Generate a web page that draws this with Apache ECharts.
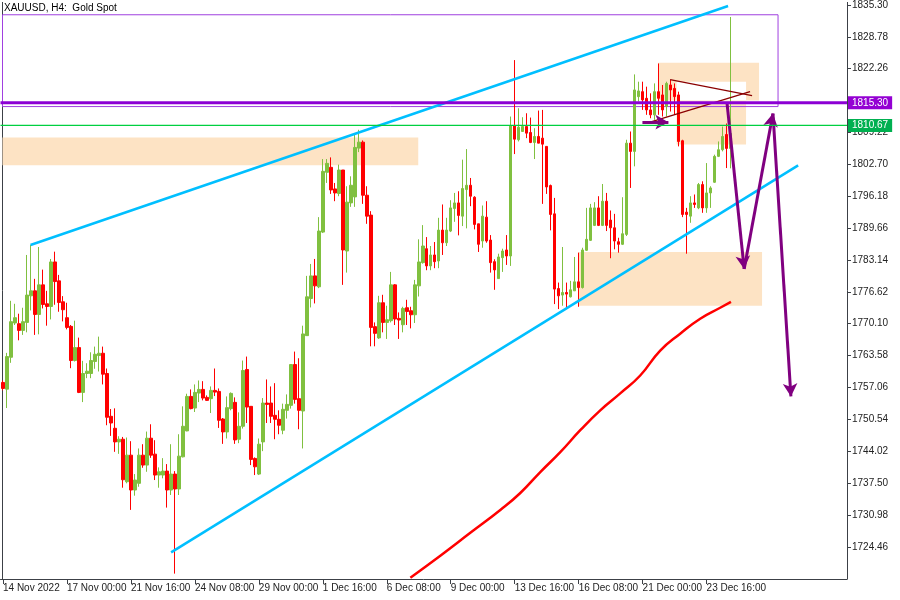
<!DOCTYPE html>
<html>
<head>
<meta charset="utf-8">
<script src="https://cdn.jsdelivr.net/npm/echarts@6/dist/echarts.min.js"></script>
<style>html,body{margin:0;padding:0;background:#fff}#c{width:900px;height:600px}</style>
</head>
<body>
<div id="c"></div>
<script>
// ---- data (bar index 0 = 14 Nov 2022 08:00, H4 bars) ----
const openP = [1758.08,1756.71,1763.23,1770.24,1770.10,1768.73,1770.36,1775.80,1776.82,1771.99,1778.04,1774.17,1773.62,1782.73,1778.86,1774.58,1771.32,1769.55,1762.56,1765.21,1756.04,1759.91,1759.91,1762.36,1763.58,1764.05,1759.91,1751.15,1748.70,1745.91,1746.46,1737.76,1743.20,1736.07,1737.44,1743.20,1741.17,1746.67,1743.41,1739.13,1739.13,1739.94,1736.07,1739.33,1736.28,1742.86,1748.16,1755.22,1752.84,1755.90,1756.65,1755.02,1754.76,1756.45,1756.24,1750.60,1747.95,1752.72,1754.00,1746.46,1749.11,1760.73,1753.19,1742.53,1739.33,1745.91,1753.86,1753.86,1751.35,1750.54,1748.30,1752.37,1753.39,1761.74,1754.76,1752.23,1767.65,1775.25,1779.88,1777.64,1788.84,1801.07,1802.09,1797.67,1796.73,1801.54,1784.97,1794.81,1796.04,1806.02,1807.24,1796.38,1792.31,1769.49,1767.19,1774.38,1770.36,1770.71,1778.04,1771.18,1769.89,1773.36,1772.75,1771.93,1777.84,1782.59,1785.44,1781.92,1784.16,1782.93,1789.25,1786.66,1789.05,1793.67,1794.81,1792.10,1797.54,1798.42,1795.97,1790.53,1787.01,1791.90,1787.21,1782.79,1779.33,1783.61,1785.18,1783.95,1810.58,1807.73,1809.42,1810.44,1809.22,1807.18,1808.40,1808.06,1806.37,1798.36,1792.57,1777.29,1775.95,1776.48,1775.60,1776.82,1778.66,1777.49,1785.12,1787.15,1790.21,1793.79,1790.21,1795.16,1791.29,1789.72,1786.87,1786.34,1788.37,1807.04,1805.35,1816.55,1817.57,1816.21,1813.84,1812.83,1817.57,1816.90,1814.52,1818.94,1818.24,1816.90,1807.53,1792.92,1792.10,1794.81,1793.79,1798.56,1793.79,1796.85,1799.03,1804.33,1805.69,1808.81,1805.96];
const highP = [1758.48,1764.13,1774.78,1774.17,1772.14,1773.36,1784.16,1786.19,1779.27,1785.79,1781.16,1776.82,1783.34,1784.83,1780.08,1775.74,1774.38,1769.83,1770.71,1767.25,1762.50,1762.01,1764.25,1765.41,1767.45,1765.41,1760.93,1752.64,1752.78,1747.07,1746.93,1746.81,1746.06,1739.33,1744.57,1745.44,1748.03,1749.52,1746.26,1740.70,1742.59,1741.37,1745.44,1739.94,1747.48,1753.19,1755.77,1756.65,1757.67,1758.48,1758.34,1755.43,1757.26,1760.93,1756.85,1750.80,1755.22,1756.04,1755.02,1751.96,1762.56,1763.37,1753.19,1742.74,1746.61,1754.88,1758.69,1757.26,1757.93,1752.37,1753.74,1755.63,1761.74,1764.39,1763.03,1769.69,1779.88,1782.32,1783.34,1791.90,1803.78,1803.78,1804.12,1798.89,1802.64,1801.54,1798.22,1800.25,1808.75,1809.77,1807.59,1798.22,1793.12,1770.36,1775.80,1776.01,1773.77,1780.69,1778.19,1772.40,1773.56,1774.99,1773.56,1779.06,1787.36,1790.27,1787.82,1785.99,1786.81,1791.76,1794.49,1791.76,1795.36,1796.85,1797.20,1803.66,1805.82,1799.91,1796.18,1790.53,1794.28,1795.16,1788.23,1783.28,1784.42,1785.44,1788.23,1812.48,1824.03,1814.17,1812.34,1813.15,1812.27,1810.09,1813.70,1813.84,1806.37,1798.56,1795.83,1778.51,1785.79,1778.51,1778.86,1783.75,1784.63,1785.64,1793.79,1794.61,1794.96,1796.18,1798.68,1796.85,1793.26,1792.57,1787.68,1795.97,1807.73,1809.42,1821.10,1819.61,1819.61,1818.59,1817.23,1819.26,1823.34,1818.94,1819.61,1819.96,1819.26,1817.57,1807.73,1793.79,1796.18,1796.53,1798.89,1799.23,1802.96,1798.22,1804.68,1807.38,1810.44,1811.05,1832.85];
const lowP = [1756.45,1752.84,1762.09,1769.83,1766.70,1767.80,1768.33,1772.81,1767.80,1767.92,1773.22,1769.69,1770.97,1773.97,1772.54,1770.57,1768.94,1760.99,1762.36,1755.90,1754.06,1758.95,1758.95,1760.87,1760.32,1757.67,1749.32,1747.14,1743.88,1743.47,1736.54,1737.44,1732.00,1734.91,1736.74,1740.62,1739.80,1742.65,1738.11,1736.54,1738.46,1732.47,1735.05,1718.96,1735.05,1742.74,1748.09,1752.58,1752.03,1754.06,1754.41,1754.31,1751.82,1755.29,1748.77,1745.51,1746.61,1752.37,1745.51,1745.65,1748.64,1749.78,1741.17,1739.13,1739.13,1744.02,1749.78,1749.78,1746.46,1747.48,1747.48,1750.68,1752.72,1753.74,1748.50,1744.57,1767.65,1773.42,1774.24,1777.37,1788.64,1798.89,1796.65,1795.16,1796.18,1778.04,1780.55,1794.00,1794.00,1805.20,1794.61,1790.53,1765.47,1765.47,1766.98,1768.33,1766.98,1770.36,1769.83,1766.98,1768.33,1769.83,1769.14,1770.24,1775.66,1782.38,1781.04,1781.04,1781.45,1781.45,1784.16,1785.99,1788.84,1790.94,1788.17,1790.07,1789.60,1794.14,1789.39,1784.77,1785.64,1786.66,1780.55,1777.03,1779.33,1780.69,1782.12,1781.92,1804.80,1807.38,1809.32,1808.06,1807.04,1803.78,1807.04,1794.61,1796.65,1789.19,1774.11,1773.09,1773.77,1773.42,1775.46,1776.82,1773.56,1777.29,1784.97,1787.01,1790.07,1790.07,1790.07,1789.05,1783.49,1785.32,1784.63,1786.19,1788.03,1797.87,1802.29,1815.54,1813.84,1812.83,1812.13,1811.81,1812.83,1812.48,1812.48,1813.50,1812.83,1806.37,1791.90,1784.42,1790.74,1793.79,1793.53,1792.78,1792.78,1793.79,1798.89,1804.19,1805.35,1801.94,1801.88];
const closeP = [1756.85,1763.37,1770.51,1771.32,1768.73,1770.51,1775.95,1776.82,1771.99,1778.04,1774.03,1773.62,1782.73,1778.72,1774.44,1772.95,1769.34,1762.56,1765.21,1756.04,1759.91,1760.38,1762.56,1763.84,1764.05,1759.77,1750.95,1749.78,1745.91,1746.46,1738.17,1743.20,1736.07,1738.11,1743.20,1741.17,1746.67,1743.20,1739.13,1739.80,1739.94,1736.07,1739.33,1736.28,1743.00,1749.11,1755.22,1752.72,1756.04,1756.65,1754.88,1754.41,1756.45,1756.10,1750.33,1747.95,1752.92,1755.84,1746.32,1749.11,1760.52,1753.04,1742.33,1740.82,1745.44,1753.86,1753.59,1751.15,1750.54,1749.32,1752.58,1753.59,1761.74,1754.61,1752.37,1768.00,1775.60,1779.88,1777.84,1789.05,1801.27,1802.90,1797.46,1796.85,1801.54,1785.18,1794.96,1798.42,1806.16,1807.24,1796.38,1792.10,1769.34,1768.12,1774.38,1770.36,1770.91,1778.04,1771.06,1770.85,1773.22,1772.60,1771.93,1778.04,1782.73,1785.99,1781.92,1784.16,1782.79,1789.25,1786.66,1789.25,1793.79,1794.81,1792.25,1797.75,1798.42,1796.18,1790.41,1786.34,1792.10,1787.01,1782.59,1781.10,1783.75,1784.97,1783.95,1810.58,1807.85,1810.30,1810.44,1809.08,1807.18,1808.40,1807.04,1806.83,1798.07,1792.45,1777.17,1775.80,1776.48,1776.15,1777.03,1778.66,1777.49,1785.18,1787.36,1793.79,1793.79,1790.21,1795.16,1790.21,1789.72,1787.01,1786.34,1788.50,1807.04,1805.35,1817.92,1817.72,1815.88,1813.84,1812.83,1817.57,1816.21,1813.84,1819.26,1817.92,1816.55,1807.38,1792.45,1792.45,1794.81,1794.49,1798.56,1793.79,1796.85,1797.87,1804.33,1805.69,1808.40,1805.96,1809.01];

// moving average (red), sampled at bar indices
const maIdx = [101.9,109.4,116.9,124.4,129.4,134.4,139.4,144.4,149.4,154.4,159.4,164.4,169.4,174.4,179.4,182.1];
const maVal = [1718.14,1722.63,1727.31,1731.99,1735.46,1739.74,1743.82,1748.30,1752.37,1755.84,1759.50,1764.60,1768.06,1771.12,1773.36,1774.58];

// x-axis tick labels (bar index -> time)
const xTickIdx = [0,16,32,48,64,80,96,112,128,144,160,176];
const xTickText = ['14 Nov 2022','17 Nov 00:00','21 Nov 16:00','24 Nov 08:00','29 Nov 00:00','1 Dec 16:00','6 Dec 08:00','9 Dec 00:00','13 Dec 16:00','16 Dec 08:00','21 Dec 00:00','23 Dec 16:00'];
// y-axis price ticks
const yTicks = [1724.46,1730.98,1737.50,1744.02,1750.54,1757.06,1763.58,1770.10,1776.62,1783.14,1789.66,1796.18,1802.70,1809.22,1815.74,1822.26,1828.78,1835.30];
const yLabelVals = yTicks.filter(v => v !== 1815.74);

// levels
const purpleLevel = 1815.30;
const greenLevel = 1810.67;
// channel lines [barIndex, price]
const upperChannel = [[6.875,1786.19],[181.375,1835.10]];
const lowerChannel = [[42.05,1723.30],[198.9,1802.49]];
// triangle lines
const triUpper = [[166.875,1820.02],[187.375,1816.76]];
const triLower = [[162.3,1811.46],[186.875,1817.57]];
// projected path
const pathPts = [[181.1,1815.33],[185.4,1781.30],[192.6,1813.09],[197.1,1755.22]];
const smallArrow = [[159.95,1811.32],[166.45,1811.32]];
// zones [x1, x2, yTop, yBottom]
const zoneLeft = [-0.125,103.875,1808.20,1802.49];
const zoneTopA = [163.875,189.125,1823.48,1815.74];
const zoneTopB = [168.5,185.875,1819.61,1806.77];
const zoneBottom = [143.875,189.875,1784.77,1773.77];
const boxPurple = [-0.125,193.875,1833.30,1814.52];

// ---- build ----
const candles = openP.map((o,i)=>[i,o,closeP[i],lowP[i],highP[i]]);
const FONT = 'Liberation Sans';
const AX = '#3c4046';
const YMIN = 1717.863, YMAX = 1835.833;
function area(z, style){ return [{coord:[z[0],z[2]], itemStyle:style},{coord:[z[1],z[3]]}]; }
const PEACH = '#FDE3C4';
const overlap = [zoneTopB[0], Math.min(zoneTopA[1], zoneTopB[1]), zoneTopB[2], zoneTopA[3]];
const XMIN = -0.625, XMAX = 211.125;

const chart = echarts.init(document.getElementById('c'), null, {renderer:'canvas'});
chart.setOption({
  animation:false,
  backgroundColor:'#ffffff',
  title:{text:'XAUUSD, H4:  Gold Spot', left:4, top:3, padding:0, textStyle:{fontSize:10, fontWeight:'normal', color:'#000', fontFamily:FONT}},
  grid:{left:0, top:0, width:847, height:579, containLabel:false},
  xAxis:{type:'value', min:XMIN, max:XMAX,
    axisLine:{show:true, onZero:false, lineStyle:{color:AX}},
    axisTick:{show:true, length:5, customValues:xTickIdx, lineStyle:{color:AX}},
    axisLabel:{customValues:xTickIdx, formatter:v=>xTickText[xTickIdx.indexOf(v)]||'', align:'left', margin:4, fontSize:10, color:'#222', fontFamily:FONT},
    splitLine:{show:false}},
  yAxis:[{type:'value', position:'right', min:YMIN, max:YMAX,
    axisLine:{show:true, onZero:false, lineStyle:{color:AX}},
    axisTick:{show:true, length:4, customValues:yTicks, lineStyle:{color:AX}},
    axisLabel:{customValues:yLabelVals, formatter:v=>v.toFixed(2), margin:5, fontSize:10, color:'#222', fontFamily:FONT},
    splitLine:{show:false}},
   {type:'value', position:'left', min:YMIN, max:YMAX, offset:-2,
    axisLine:{show:true, onZero:false, lineStyle:{color:AX, width:1}}, axisTick:{show:false}, axisLabel:{show:false}, splitLine:{show:false}}],
  series:[
    {type:'line', data:[], z:1, silent:true,
     markArea:{silent:true, data:[
       area(zoneLeft,{color:PEACH}),
       area(zoneTopA,{color:PEACH}),
       area(zoneTopB,{color:PEACH}),
       area(overlap,{color:'#ffffff'}),
       area(zoneBottom,{color:PEACH})
     ]}},
    {type:'candlestick', data:candles, encode:{x:0,y:[1,2,3,4]}, barWidth:3, z:2,
     itemStyle:{color:'#80C040', color0:'#FF0000', borderColor:'#80C040', borderColor0:'#FF0000', borderWidth:1}},
    {type:'line', data:[], z:3, silent:true,
     markArea:{silent:true, data:[area(boxPurple,{color:'rgba(0,0,0,0)', borderColor:'#A040E0', borderWidth:1})]}},
    {type:'line', data:maIdx.map((x,i)=>[x,maVal[i]]), showSymbol:false, smooth:true, z:4,
     lineStyle:{color:'#FF0000', width:2.5}},
    {type:'line', data:upperChannel, showSymbol:false, z:4, lineStyle:{color:'#00BFFF', width:2.5}},
    {type:'line', data:lowerChannel, showSymbol:false, z:4, lineStyle:{color:'#00BFFF', width:2.5}},
    {type:'line', data:triUpper, showSymbol:false, z:4, lineStyle:{color:'#8B0000', width:1.3}},
    {type:'line', data:triLower, showSymbol:false, z:4, lineStyle:{color:'#8B0000', width:1.3}},
    {type:'line', data:[[XMIN,greenLevel],[XMAX,greenLevel]], showSymbol:false, z:5, silent:true,
     lineStyle:{color:'#00D040', width:1.2},
     endLabel:{show:true, distance:1, formatter:greenLevel.toFixed(2), color:'#fff', backgroundColor:'#00B050', padding:[2,4,1,4], fontSize:10, fontFamily:FONT}},
    {type:'line', data:[[XMIN,purpleLevel],[XMAX,purpleLevel]], showSymbol:false, z:5, silent:true,
     lineStyle:{color:'#8C00D4', width:3},
     endLabel:{show:true, distance:1, formatter:purpleLevel.toFixed(2), color:'#fff', backgroundColor:'#9400D3', padding:[2,4,1,4], fontSize:10, fontFamily:FONT}},
    {type:'line', data:[], z:6, silent:true,
     markLine:{silent:true, symbol:['none','arrow'], symbolSize:[11,13], animation:false,
       lineStyle:{color:'#800080', width:3, type:'solid'}, label:{show:false},
       data:[
         [{coord:smallArrow[0]},{coord:smallArrow[1]}],
         [{coord:pathPts[0]},{coord:pathPts[1]}],
         [{coord:pathPts[1]},{coord:pathPts[2]}],
         [{coord:pathPts[2]},{coord:pathPts[3]}]
       ]}}
  ]
});
</script>
</body>
</html>
